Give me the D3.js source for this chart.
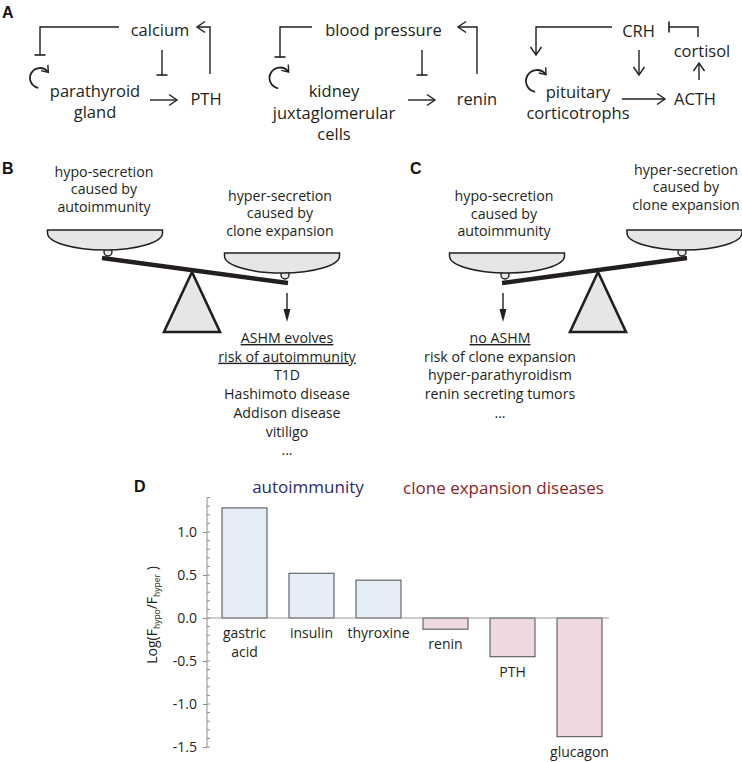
<!DOCTYPE html>
<html><head><meta charset="utf-8">
<script src="https://cdn.jsdelivr.net/npm/d3@7"></script>
<style>
body{margin:0;background:#fff}
svg{display:block}
text{font-family:"Open Sans",sans-serif;fill:#231f20}
.letter{font-family:"Liberation Sans",Arial,sans-serif;font-weight:bold;font-size:16px;fill:#111}
</style>
</head><body>
<svg id="chart" width="742" height="762"></svg>
<script>
// ---------- data ----------
const categories = ["gastric acid", "insulin", "thyroxine", "renin", "PTH", "glucagon"];
const values = [1.28, 0.52, 0.44, -0.13, -0.45, -1.38];
const groups = ["auto", "auto", "auto", "clone", "clone", "clone"];
const yTickValues = [-1.5, -1.0, -0.5, 0.0, 0.5, 1.0];
const yTickLabels = ["-1.5", "-1.0", "-0.5", "0.0", "0.5", "1.0"];
const groupTitles = ["autoimmunity", "clone expansion diseases"];
const panelLetters = ["A", "B", "C", "D"];
const hypoLabel = ["hypo-secretion", "caused by", "autoimmunity"];
const hyperLabel = ["hyper-secretion", "caused by", "clone expansion"];
const bOutcome = ["ASHM evolves", "risk of autoimmunity", "T1D", "Hashimoto disease", "Addison disease", "vitiligo", "..."];
const cOutcome = ["no ASHM", "risk of clone expansion", "hyper-parathyroidism", "renin secreting tumors", "..."];
const loop1 = ["calcium", "parathyroid", "gland", "PTH"];
const loop2 = ["blood pressure", "kidney", "juxtaglomerular", "cells", "renin"];
const loop3 = ["CRH", "pituitary", "corticotrophs", "ACTH", "cortisol"];

const svg = d3.select("#chart");
const INK = "#231f20";

// ---------- helpers ----------
function text(g, str, x, y, size, anchor, cls) {
  return g.append("text").attr("x", x).attr("y", y).attr("font-size", size)
    .attr("text-anchor", anchor || "middle").attr("class", cls || null).text(str);
}
// multi-line label as one text element with tspans
function stack(g, lines, x, y0, size, lh, underlineN) {
  const t = g.append("text").attr("x", x).attr("y", y0).attr("font-size", size)
    .attr("text-anchor", "middle");
  lines.forEach((s, i) => {
    const ts = t.append("tspan").attr("x", x).attr("dy", i === 0 ? 0 : lh).text(s);
    if (underlineN && i < underlineN) ts.style("text-decoration", "underline");
  });
  return t;
}
function poly(g, pts, w) {
  g.append("path").attr("d", d3.line()(pts)).attr("fill", "none")
    .attr("stroke", INK).attr("stroke-width", w || 1.4).attr("stroke-linejoin", "miter");
}
function head(g, tx, ty, dx, dy, L, W) {
  L = L || 8; W = W || 5.5;
  const px = -dy, py = dx;
  poly(g, [[tx - dx * L + px * W, ty - dy * L + py * W], [tx, ty], [tx - dx * L - px * W, ty - dy * L - py * W]]);
}
function tbarH(g, x, y) { poly(g, [[x - 5.5, y], [x + 5.5, y]], 1.6); }
function tbarV(g, x, y) { poly(g, [[x, y - 5.5], [x, y + 5.5]], 1.6); }
function cycle(g, cx, cy, r) {
  const a0 = 100 * Math.PI / 180, a1 = 320 * Math.PI / 180;
  const p0 = [cx + r * Math.cos(a0), cy + r * Math.sin(a0)];
  const p1 = [cx + r * Math.cos(a1), cy + r * Math.sin(a1)];
  g.append("path").attr("d", `M${p0[0]},${p0[1]} A${r},${r} 0 1 1 ${p1[0]},${p1[1]}`)
    .attr("fill", "none").attr("stroke", INK).attr("stroke-width", 1.8);
  const dx = -Math.sin(a1), dy = Math.cos(a1);
  head(g, p1[0] + dx * 1, p1[1] + dy * 1, dx, dy, 6, 4.5);
}

// ---------- panel letters ----------
const letterPos = [[2, 18], [2, 174], [410, 174], [134, 492]];
panelLetters.forEach((l, i) => text(svg, l, letterPos[i][0], letterPos[i][1], 16, "start", "letter"));

// ---------- panel A ----------
const A = svg.append("g");
const fsA = 16.5;
// loop 1: calcium / parathyroid / PTH
text(A, loop1[0], 160, 36, fsA);
poly(A, [[119, 27], [40, 27], [40, 55]]); tbarH(A, 40, 55);
cycle(A, 40, 78, 10);
stack(A, [loop1[1], loop1[2]], 95, 97, fsA, 21.2);
poly(A, [[162, 50], [162, 75]]); tbarH(A, 162, 75);
poly(A, [[150, 100], [177, 100]]); head(A, 177, 100, 1, 0);
text(A, loop1[3], 206, 105, fsA);
poly(A, [[210, 74], [210, 27], [197, 27]]); head(A, 197, 27, -1, 0);

// loop 2: blood pressure / kidney / renin
text(A, loop2[0], 383.5, 36, fsA);
poly(A, [[312, 27], [280, 27], [280, 57]]); tbarH(A, 280, 57);
cycle(A, 280, 78, 10.5);
stack(A, [loop2[1], loop2[2], loop2[3]], 334, 97, fsA, 21.5);
poly(A, [[422, 50], [422, 75]]); tbarH(A, 422, 75);
poly(A, [[408, 100], [435, 100]]); head(A, 435, 100, 1, 0);
text(A, loop2[4], 477, 105, fsA);
poly(A, [[477, 74], [477, 27], [458, 27]]); head(A, 458, 27, -1, 0);

// loop 3: CRH / pituitary / ACTH / cortisol
text(A, loop3[0], 638.5, 37, fsA);
poly(A, [[612, 27], [536, 27], [536, 55]]); head(A, 536, 55, 0, 1);
cycle(A, 537, 81, 11);
stack(A, [loop3[1], loop3[2]], 578, 97.5, fsA, 21.3);
poly(A, [[639, 50], [639, 75]]); head(A, 639, 75, 0, 1);
poly(A, [[622, 99], [665, 99]]); head(A, 665, 99, 1, 0);
text(A, loop3[3], 695, 105, fsA);
poly(A, [[699, 80], [699, 63]]); head(A, 699, 63, 0, -1);
text(A, loop3[4], 702, 57, fsA);
poly(A, [[698, 37], [698, 27], [669, 27]]); tbarV(A, 669, 27);

// ---------- panels B & C (balances) ----------
const PAN = "#e6e6e6";
function pan(g, cx, top, w) {
  const x0 = cx - w / 2, x1 = cx + w / 2;
  g.append("path").attr("d", `M${x0},${top} H${x1} V${top + 3} A${w / 2},17 0 0 1 ${x0},${top + 3} Z`)
    .attr("fill", PAN).attr("stroke", INK).attr("stroke-width", 1.5);
}
function knob(g, x, y) {
  g.append("circle").attr("cx", x).attr("cy", y).attr("r", 4).attr("fill", PAN)
    .attr("stroke", INK).attr("stroke-width", 1.4);
}
function balance(g, L, R, apex) {
  knob(g, L.kx, L.ky); knob(g, R.kx, R.ky);
  pan(g, L.cx, L.top, 115); pan(g, R.cx, R.top, 115);
  g.append("path").attr("d", `M${apex[0]},${apex[1]} L${apex[0] + 28},332 L${apex[0] - 28},332 Z`)
    .attr("fill", PAN).attr("stroke", INK).attr("stroke-width", 2.6).attr("stroke-linejoin", "miter");
  poly(g, [[L.bx, L.by], [R.bx, R.by]], 4.5);
}
function downArrow(g, x) {
  poly(g, [[x, 293], [x, 312]], 1.4);
  g.append("path").attr("d", `M${x - 3.5},309 L${x + 3.5},309 L${x},322 Z`).attr("fill", INK);
}
const B = svg.append("g");
stack(B, hypoLabel, 104, 176.5, 14.2, 17.5);
stack(B, hyperLabel, 280, 200.5, 14.2, 17.5);
balance(B, { cx: 105, top: 230, kx: 108, ky: 252, bx: 102, by: 258 },
           { cx: 282, top: 253, kx: 285, ky: 275, bx: 288, by: 283 }, [192, 272]);
downArrow(B, 287);
stack(B, bOutcome, 287, 343, 14.2, 18.7, 2);

const C = svg.append("g");
stack(C, hypoLabel, 504, 201, 14.2, 17.5);
stack(C, hyperLabel, 686, 174.5, 14.2, 17.5);
balance(C, { cx: 507, top: 253, kx: 505, ky: 275, bx: 502, by: 283 },
           { cx: 684.5, top: 230, kx: 682, ky: 252, bx: 687, by: 258 }, [598, 272]);
downArrow(C, 503);
stack(C, cOutcome, 500, 343, 14.2, 18.7, 1);

// ---------- panel D (bar chart) ----------
const D = svg.append("g");
const x = d3.scaleBand().domain(categories).range([211, 613])
  .paddingInner(22 / 67).paddingOuter(11 / 67);
const y = d3.scaleLinear().domain([-1.5, 1.5]).range([747, 489]);
const AX = 207;
const fill = { auto: "#e4edf8", clone: "#eed9de" };

// group titles
text(D, groupTitles[0], 308, 493, 17).style("fill", "#2b2a72");
text(D, groupTitles[1], 503.5, 494, 17).style("fill", "#8b2326");

// y axis
D.append("line").attr("x1", AX).attr("x2", AX).attr("y1", y(-1.5)).attr("y2", y(1.4))
  .attr("stroke", "#8c8c8c").attr("stroke-width", 1);
const minor = d3.range(-15, 15).map(i => i / 10);
D.selectAll(".minor").data(minor).join("line").attr("class", "minor")
  .attr("x1", AX).attr("x2", AX + 3).attr("y1", d => y(d)).attr("y2", d => y(d))
  .attr("stroke", "#8c8c8c").attr("stroke-width", 1);
const yAxis = d3.axisLeft(y).tickValues(yTickValues).tickSize(4).tickPadding(6)
  .tickFormat((d, i) => yTickLabels[i]);
const ag = D.append("g").attr("transform", `translate(${AX},0)`).call(yAxis);
ag.select(".domain").remove();
ag.selectAll(".tick line").attr("stroke", "#8c8c8c").attr("x2", -4);
ag.selectAll(".tick text").attr("font-size", 14).attr("font-family", "Open Sans").style("fill", "#231f20");

// y label
const yl = D.append("text").attr("transform", "translate(157,615) rotate(-90)")
  .attr("text-anchor", "middle").attr("font-size", 14);
yl.append("tspan").text("Log(F");
yl.append("tspan").attr("font-size", 8.5).attr("dy", 3).text("hypo");
yl.append("tspan").attr("dy", -3).text("/F");
yl.append("tspan").attr("font-size", 8.5).attr("dy", 3).text("hyper");
yl.append("tspan").attr("dy", -3).text(" )");

// bars
D.selectAll(".bar").data(categories).join("rect").attr("class", "bar")
  .attr("x", d => x(d)).attr("width", x.bandwidth())
  .attr("y", (d, i) => Math.min(y(values[i]), y(0)))
  .attr("height", (d, i) => Math.abs(y(values[i]) - y(0)))
  .attr("fill", (d, i) => fill[groups[i]])
  .attr("stroke", "#58595b").attr("stroke-width", 1.1);

// zero line
D.append("line").attr("x1", AX).attr("x2", 609).attr("y1", y(0)).attr("y2", y(0))
  .attr("stroke", "#9a9a9a").attr("stroke-width", 1);

// bar labels
categories.forEach((c, i) => {
  const base = (values[i] >= 0 ? y(0) : y(values[i])) + 20;
  stack(D, c.split(" "), x(c) + x.bandwidth() / 2, base, 14, 19);
});
</script>
</body></html>
